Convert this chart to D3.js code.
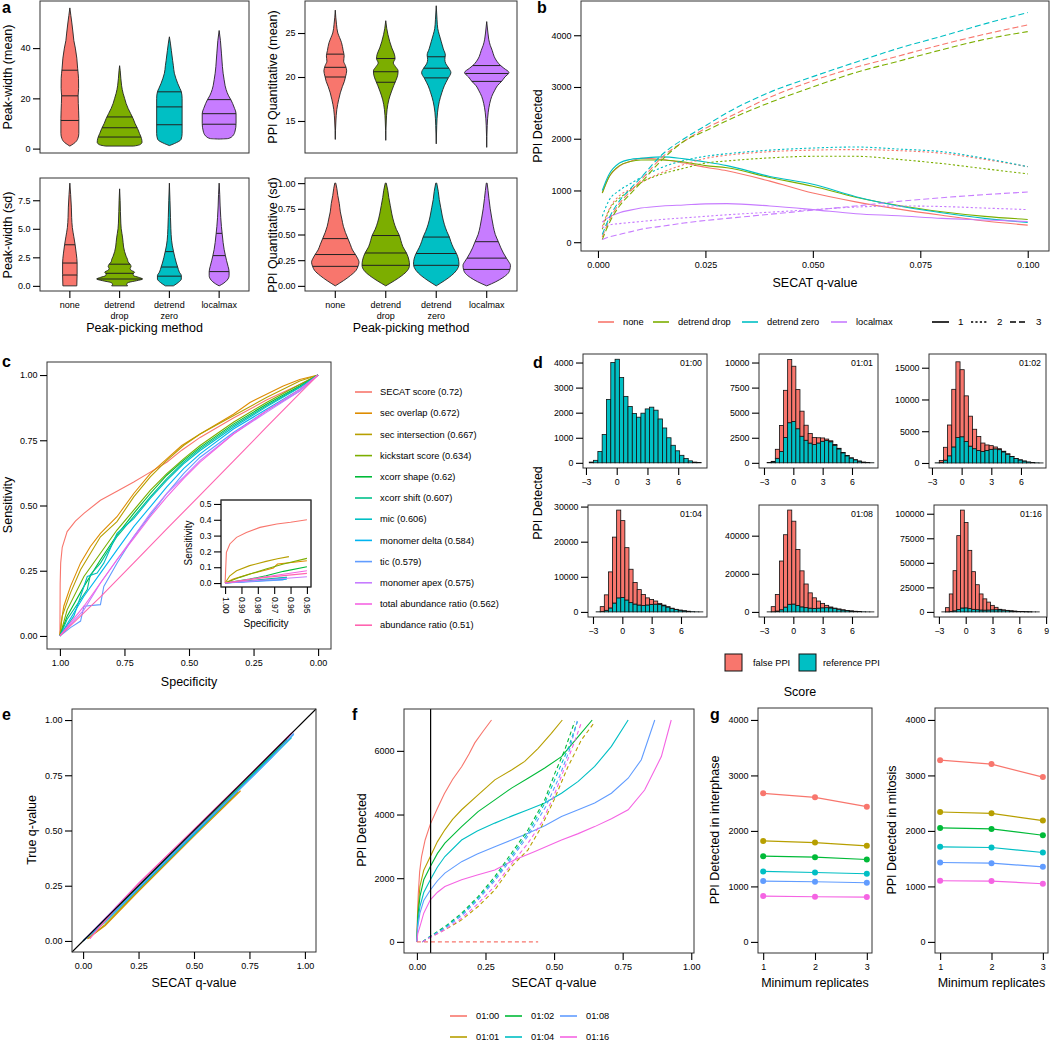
<!DOCTYPE html>
<html><head><meta charset="utf-8">
<script src="https://cdn.jsdelivr.net/npm/d3@7"></script>
<style>body{margin:0;background:#fff}</style>
</head><body>
<script>
// ================= DATA =================
// Panel a
const methods = ["none","detrend drop","detrend zero","localmax"];
const methodColors = ["#F8766D","#7CAE00","#00BFC4","#C77CFF"];
const methodTickLabels = [["none"],["detrend","drop"],["detrend","zero"],["localmax"]];
// violin profiles: [value, relative half-width]
const pwMeanProfiles = [
  [[1,0],[1.5,2],[2.5,5.5],[4,8],[6,9],[12,9],[18,8.5],[21,8.3],[24,8.8],[28,8.7],[32,7.8],[36,7],[40,5.5],[43,4],[46,3.2],[50,2],[53,1],[56,0]],
  [[1,14],[1.5,20],[2.5,22.5],[4,22],[6,20],[8,18],[10,15.5],[12,13.5],[14,11],[16,8.5],[18,6.5],[20,5],[22,3.5],[25,2],[28,1.2],[31,0.6],[33,0]],
  [[1.2,0],[2,5],[3.7,11.8],[6,12.8],[20,12.8],[22.6,12],[24,10.5],[26,8.3],[28,6.5],[30,5],[33,4],[35,3.3],[39,2],[42,1],[44.5,0]],
  [[3.8,0],[4,9],[5,13.5],[7,16],[10,17],[14,17],[16,15.5],[18,13.5],[19.5,11.7],[21,9.5],[23.5,7],[25,6],[27.4,5],[30,4],[32.6,3.3],[38,2.3],[43,1.3],[47,0]]
];
const pwMeanQuantiles = [[11.2,21,31.2],[4.6,8.3,12.6],[9.5,16.6,22.6],[9.7,13.9,19.5]];
const pqMeanProfiles = [
  [[12.9,0],[15,0.6],[16.3,1.5],[17.4,3.3],[18.2,5],[18.9,7],[19.5,9],[20.1,10.3],[20.7,11.3],[21.3,10],[21.8,8.3],[22.4,8.8],[23,7.8],[23.9,6.2],[24.5,4.2],[25,2.5],[26,1.2],[27.6,0]],
  [[12.8,0],[15,0.5],[16.3,1.3],[17.4,3],[18.3,5.5],[19,7.8],[19.6,10],[20.2,11.8],[20.7,12.2],[21.2,9.5],[21.6,7.5],[22.1,9.2],[22.6,8.5],[23.3,6],[24,4],[24.8,2.2],[25.5,1],[26.4,0]],
  [[12.4,0],[14.5,0.5],[16,1.3],[17.2,3],[18.2,5.5],[19,8],[19.8,11.5],[20.5,14.5],[21,12.5],[21.5,9.5],[22,8.5],[22.5,9],[23.2,7],[24,5],[24.8,3],[25.5,1.5],[26.5,0.8],[28.1,0]],
  [[12,0],[14.5,0.5],[16,1.5],[17,3],[17.8,5],[18.5,8],[19,10.5],[19.5,14.7],[20,18],[20.5,22],[21,17],[21.3,13.8],[21.8,10],[22.3,7.5],[23,5.5],[23.6,3.5],[24.3,2],[25,1.2],[26.3,0]]
];
const pqMeanQuantiles = [[20.0,21.1,22.6],[19.4,20.6,22.1],[19.9,21.0,22.3],[19.5,20.4,21.3]];
const pwSdProfiles = [
  [[0,7],[1,7.3],[2,7.3],[2.8,6.5],[3.6,5.3],[4.3,4],[5.1,2.5],[6,1.8],[6.9,1.5],[8,0.8],[9,0]],
  [[0,8],[0.15,7],[0.3,9],[0.45,17],[0.6,23],[0.75,19],[0.9,14],[1.05,13.5],[1.2,15],[1.35,12],[1.5,10.5],[1.7,11.5],[1.9,10.5],[2.1,8.5],[2.3,8],[2.6,6.5],[3,5],[3.4,4],[3.8,3.5],[4.2,3],[4.6,2.3],[5,1.6],[5.5,1.2],[6.5,0.8],[7.5,0.5],[8.5,0]],
  [[0,4],[0.3,9],[0.6,12],[0.9,12],[1.2,10],[1.65,8.3],[2.0,7],[2.5,5.5],[3.0,4.2],[3.5,3],[4,2.2],[5,1.5],[6,1.1],[7.5,0.6],[9,0]],
  [[0,0],[0.2,4],[0.5,8],[0.9,10],[1.25,10],[1.7,9],[2.2,7.5],[2.65,6.3],[3.2,5],[3.8,4],[4.6,3],[5.2,2.3],[6,1.6],[7,1],[8,0.6],[9,0]]
];
const pwSdQuantiles = [[0.95,2.0,3.6],[0.6,1.1,1.9],[0.85,1.65,3.0],[1.25,2.65,4.6]];
const pqSdProfiles = [
  [[0,0],[0.05,8],[0.1,15],[0.15,20.5],[0.19,22.5],[0.23,23.5],[0.27,22],[0.305,20],[0.35,17],[0.4,15],[0.46,12.5],[0.52,10],[0.58,8],[0.65,6.5],[0.72,5],[0.8,4],[0.88,2.5],[0.95,1.5],[1,0.5]],
  [[0,0],[0.05,8.5],[0.1,16],[0.15,21.5],[0.2,23.5],[0.25,23],[0.32,20.5],[0.38,17],[0.44,15],[0.49,13.5],[0.55,10.5],[0.62,8],[0.7,6],[0.78,4.5],[0.86,3],[0.93,2],[1,0.5]],
  [[0,0],[0.05,8],[0.1,15],[0.15,20],[0.21,22.5],[0.26,22],[0.315,20],[0.37,17],[0.43,14.5],[0.475,13],[0.53,10.5],[0.6,8],[0.68,6],[0.76,4.5],[0.84,3],[0.92,2],[1,0.5]],
  [[0,0],[0.04,9],[0.08,16],[0.12,21],[0.16,23],[0.2,23.5],[0.24,21.5],[0.27,19.5],[0.32,16.5],[0.37,14],[0.43,11.5],[0.5,8.5],[0.58,6.5],[0.66,5],[0.75,3.5],[0.85,2.2],[0.93,1.3],[1,0.4]]
];
const pqSdQuantiles = [[0.19,0.305,0.46],[0.2,0.32,0.49],[0.2,0.315,0.475],[0.16,0.27,0.43]];

// Panel b
const bQValues = [0.001,0.0025,0.005,0.0075,0.01,0.015,0.02,0.025,0.03,0.04,0.05,0.06,0.07,0.08,0.09,0.1];
const bReplicate1 = [
  [950,1250,1470,1560,1620,1600,1530,1450,1380,1180,950,780,640,520,410,330],
  [950,1250,1480,1560,1590,1590,1550,1480,1440,1250,1080,870,710,590,500,440],
  [1000,1300,1530,1600,1620,1650,1610,1550,1480,1270,1120,880,700,570,460,380],
  [390,480,570,620,660,700,720,740,745,700,630,550,510,460,430,400]
];
const bReplicate2 = [
  [300,620,900,1020,1150,1350,1500,1620,1680,1750,1780,1790,1770,1720,1600,1460],
  [250,600,850,1000,1150,1320,1430,1530,1570,1630,1660,1660,1600,1520,1420,1320],
  [500,800,1000,1130,1250,1450,1580,1660,1710,1780,1820,1840,1800,1750,1620,1460],
  [280,330,360,380,400,440,470,500,530,580,630,680,700,690,660,630]
];
const bReplicate3 = [
  [100,400,750,980,1200,1650,1950,2200,2400,2800,3120,3380,3600,3820,4020,4200],
  [50,350,700,930,1150,1600,1950,2150,2350,2700,3000,3280,3500,3720,3920,4070],
  [150,450,800,1030,1250,1700,2000,2250,2500,2900,3200,3480,3750,3980,4220,4440],
  [50,100,150,200,250,310,370,420,460,540,620,700,790,860,920,970]
];
const replicateLabels = ["1","2","3"];

// Panel c
const rocNames = ["SECAT score (0.72)","sec overlap (0.672)","sec intersection (0.667)","kickstart score (0.634)","xcorr shape (0.62)","xcorr shift (0.607)","mic (0.606)","monomer delta (0.584)","tic (0.579)","monomer apex (0.575)","total abundance ratio (0.562)","abundance ratio (0.51)"];
const rocColors = ["#F8766D","#DE8C00","#B79F00","#7CAE00","#00BA38","#00C08B","#00BFC4","#00B4F0","#619CFF","#C77CFF","#F564E3","#FF64B0"];
const rocCurves = [
  [[1,0],[0.999,0.2],[0.997,0.28],[0.991,0.34],[0.972,0.4],[0.94,0.44],[0.907,0.47],[0.843,0.52],[0.779,0.555],[0.714,0.59],[0.65,0.628],[0.586,0.666],[0.528,0.712],[0.457,0.761],[0.328,0.835],[0.2,0.904],[0.071,0.964],[0,1]],
  [[1,0],[0.995,0.05],[0.985,0.114],[0.959,0.19],[0.92,0.28],[0.882,0.343],[0.843,0.393],[0.779,0.457],[0.714,0.546],[0.65,0.622],[0.586,0.679],[0.528,0.73],[0.457,0.774],[0.328,0.85],[0.264,0.895],[0.2,0.926],[0.135,0.958],[0.071,0.983],[0,1]],
  [[1,0],[0.991,0.076],[0.959,0.165],[0.92,0.254],[0.843,0.38],[0.779,0.438],[0.714,0.533],[0.65,0.61],[0.586,0.673],[0.521,0.73],[0.457,0.774],[0.328,0.844],[0.2,0.914],[0.071,0.977],[0,1]],
  [[1,0],[0.972,0.1],[0.907,0.228],[0.843,0.317],[0.779,0.406],[0.714,0.482],[0.65,0.558],[0.586,0.622],[0.521,0.679],[0.457,0.73],[0.328,0.819],[0.2,0.895],[0.071,0.964],[0,1]],
  [[1,0],[0.972,0.076],[0.907,0.19],[0.843,0.292],[0.779,0.387],[0.714,0.47],[0.65,0.546],[0.586,0.616],[0.521,0.673],[0.457,0.723],[0.328,0.812],[0.2,0.888],[0.071,0.958],[0,1]],
  [[1,0],[0.972,0.064],[0.894,0.178],[0.882,0.235],[0.843,0.279],[0.779,0.381],[0.714,0.457],[0.65,0.533],[0.586,0.603],[0.521,0.666],[0.457,0.717],[0.328,0.806],[0.2,0.882],[0.071,0.954],[0,1]],
  [[1,0],[0.946,0.076],[0.894,0.228],[0.856,0.241],[0.83,0.279],[0.779,0.393],[0.714,0.45],[0.65,0.527],[0.586,0.596],[0.521,0.66],[0.457,0.711],[0.328,0.8],[0.2,0.878],[0.071,0.952],[0,1]],
  [[1,0],[0.907,0.152],[0.843,0.241],[0.779,0.33],[0.714,0.419],[0.65,0.495],[0.586,0.571],[0.521,0.641],[0.457,0.698],[0.328,0.793],[0.2,0.869],[0.071,0.945],[0,1]],
  [[1,0],[0.959,0.032],[0.92,0.057],[0.907,0.114],[0.843,0.12],[0.83,0.19],[0.779,0.279],[0.714,0.381],[0.65,0.463],[0.586,0.546],[0.521,0.622],[0.457,0.685],[0.328,0.78],[0.2,0.863],[0.071,0.939],[0,1]],
  [[1,0],[0.907,0.1],[0.843,0.203],[0.779,0.292],[0.714,0.381],[0.65,0.47],[0.586,0.546],[0.521,0.609],[0.457,0.673],[0.328,0.774],[0.2,0.857],[0.071,0.939],[0,1]],
  [[1,0],[0.907,0.114],[0.843,0.203],[0.779,0.292],[0.714,0.374],[0.65,0.457],[0.586,0.533],[0.521,0.603],[0.457,0.666],[0.328,0.774],[0.2,0.863],[0.071,0.945],[0,1]],
  [[1,0],[0.843,0.15],[0.714,0.28],[0.586,0.41],[0.457,0.54],[0.328,0.67],[0.2,0.8],[0.071,0.93],[0,1]]
];
const rocInsetCurves = [
  [[1,0],[0.9992,0.194],[0.9971,0.247],[0.993,0.289],[0.987,0.32],[0.9787,0.352],[0.9684,0.373],[0.96,0.384],[0.95,0.4]],
  [[1,0],[0.995,0.025],[0.985,0.057],[0.975,0.082],[0.9705,0.095],[0.968,0.12],[0.958,0.131],[0.95,0.141]],
  [[1,0],[0.9971,0.046],[0.993,0.078],[0.985,0.11],[0.975,0.137],[0.968,0.154],[0.961,0.167]],
  [[1,0],[0.991,0.036],[0.9828,0.063],[0.975,0.089],[0.9643,0.12],[0.95,0.156]],
  [[1,0],[0.985,0.025],[0.975,0.046],[0.9643,0.074],[0.95,0.103]],
  [[1,0],[0.975,0.025],[0.9623,0.036]],
  [[1,0],[0.975,0.019],[0.9623,0.036]],
  [[1,0],[0.9623,0.025]],
  [[1,0],[0.9643,0.019]],
  [[1,0],[0.95,0.04]],
  [[1,0],[0.975,0.04],[0.95,0.078]],
  [[1,0],[0.975,0.036],[0.95,0.061]]
];

// Panel d
const dLabels = ["01:00","01:01","01:02","01:04","01:08","01:16"];
const dBinStart = -2.68, dBinWidth = 0.42;
const dReferenceCounts = [30,100,450,1130,2530,4000,4130,3400,2650,2250,1970,1820,1980,2150,2220,2100,1750,1390,1000,700,480,300,170,80,30,10];
const dFalse0100 = [0,0,0,0,0,0,0,0,0,0,0,0,0,0,0,0,0,0,0,0,0,0,0,0,0,0];
const dFalse0101 = [0,50,900,2600,4700,6300,5500,3900,2500,1500,960,700,520,330,150,100,80,60,40,30,20,10,5,0,0,0];
const dFalse0102 = [0,310,2020,4850,9070,11930,10560,7170,4720,3060,2210,1320,860,580,300,150,100,60,40,20,10,5,0,0,0,0];
const dFalse0104 = [0,1400,4410,10270,18770,25000,21870,14900,9500,6150,4380,3130,2020,1400,880,330,200,100,60,40,20,10,5,0,0,0];
const dFalse0108 = [0,2660,8690,25570,37970,49450,43470,29360,18900,12400,8030,5580,3720,2330,1230,490,250,150,100,50,30,20,10,0,0,0];
const dFalse0116 = [0,4230,17850,40870,75170,99700,86870,59300,38350,25450,16330,11480,8020,4520,2450,570,300,200,100,50,30,20,10,5,0,0];
const dFalseCounts = [dFalse0100,dFalse0101,dFalse0102,dFalse0104,dFalse0108,dFalse0116];
const dLegend = ["false PPI","reference PPI"];

// Panel e: SECAT q-value vs true q-value, per score (same order as rocNames)
const eCurves = [
  [[0,0],[0.1,0.09],[0.25,0.245],[0.5,0.49],[0.75,0.745],[0.93,0.925]],
  [[0.02,0.01],[0.1,0.07],[0.25,0.225],[0.5,0.475],[0.71,0.68]],
  [[0.02,0.01],[0.1,0.075],[0.25,0.23],[0.5,0.48],[0.7,0.675]],
  [[0,0],[0.1,0.09],[0.25,0.24],[0.5,0.49],[0.75,0.74],[0.9,0.89]],
  [[0,0],[0.1,0.095],[0.25,0.245],[0.5,0.5],[0.75,0.745],[0.92,0.915]],
  [[0,0],[0.1,0.09],[0.25,0.24],[0.5,0.49],[0.75,0.74],[0.92,0.91]],
  [[0,0],[0.1,0.085],[0.25,0.235],[0.5,0.48],[0.75,0.73],[0.94,0.92]],
  [[0,0],[0.1,0.09],[0.25,0.24],[0.5,0.485],[0.75,0.735],[0.95,0.935]],
  [[0,0],[0.1,0.09],[0.25,0.24],[0.5,0.49],[0.75,0.73],[0.85,0.83],[0.95,0.94]],
  [[0,0],[0.15,0.155],[0.25,0.255],[0.5,0.5],[0.75,0.75],[0.94,0.94]],
  [[0.03,0.01],[0.15,0.155],[0.25,0.262],[0.5,0.505],[0.75,0.75],[0.95,0.95]],
  [[0.03,0.01],[0.15,0.15],[0.25,0.26],[0.5,0.505],[0.75,0.752],[0.94,0.942]]
];

// Panel f
const times = ["01:00","01:01","01:02","01:04","01:08","01:16"];
const timeColors = ["#F8766D","#B79F00","#00BA38","#00BFC4","#619CFF","#F564E3"];
const fSolid = [
  [[0,0],[0.002,800],[0.005,1500],[0.01,2200],[0.017,2680],[0.03,3200],[0.049,3700],[0.075,4200],[0.1,4650],[0.13,5100],[0.163,5500],[0.19,5900],[0.211,6250],[0.24,6600],[0.272,6970]],
  [[0,0],[0.003,900],[0.011,1740],[0.025,2250],[0.049,2680],[0.075,3150],[0.102,3520],[0.13,3850],[0.163,4150],[0.223,4620],[0.284,5090],[0.345,5400],[0.393,5670],[0.442,6080],[0.49,6550],[0.53,6970]],
  [[0,0],[0.003,750],[0.011,1420],[0.025,1950],[0.049,2370],[0.075,2780],[0.102,3100],[0.163,3620],[0.223,4090],[0.284,4460],[0.345,4830],[0.405,5140],[0.466,5460],[0.527,5820],[0.588,6450],[0.639,6970]],
  [[0,0],[0.003,600],[0.011,1110],[0.025,1550],[0.049,1950],[0.075,2350],[0.102,2680],[0.163,3200],[0.22,3480],[0.284,3730],[0.345,3950],[0.405,4150],[0.466,4360],[0.527,4670],[0.588,5040],[0.648,5510],[0.709,6140],[0.77,6970]],
  [[0,0],[0.003,450],[0.011,900],[0.025,1300],[0.049,1630],[0.075,1920],[0.102,2160],[0.163,2520],[0.22,2760],[0.284,2990],[0.345,3200],[0.405,3410],[0.466,3650],[0.527,3940],[0.588,4150],[0.648,4360],[0.709,4670],[0.77,5140],[0.818,5720],[0.867,6970]],
  [[0,0],[0.003,250],[0.011,480],[0.025,900],[0.049,1320],[0.075,1560],[0.102,1740],[0.163,1950],[0.22,2100],[0.284,2260],[0.357,2580],[0.43,2840],[0.527,3200],[0.588,3400],[0.648,3620],[0.709,3870],[0.77,4150],[0.83,4770],[0.891,5820],[0.927,6970]]
];
const fDashed = [
  [[0,0],[0.442,0]],
  [[0.02,0],[0.041,115],[0.102,380],[0.163,690],[0.223,1110],[0.284,1630],[0.345,2370],[0.405,2890],[0.454,3620],[0.5,4460],[0.551,5510],[0.6,6350],[0.645,6870]],
  [[0.02,0],[0.041,130],[0.102,480],[0.163,900],[0.223,1420],[0.284,2050],[0.345,2790],[0.405,3520],[0.466,4460],[0.503,5300],[0.539,6030],[0.575,6920]],
  [[0.02,0],[0.041,125],[0.102,450],[0.163,860],[0.223,1370],[0.284,1980],[0.345,2700],[0.405,3420],[0.466,4350],[0.51,5250],[0.55,6050],[0.585,6920]],
  [[0.02,0],[0.041,120],[0.102,420],[0.163,820],[0.223,1320],[0.284,1920],[0.345,2620],[0.405,3330],[0.47,4250],[0.52,5200],[0.555,6000],[0.585,6950]],
  [[0.02,0],[0.041,100],[0.102,380],[0.163,740],[0.223,1200],[0.284,1750],[0.345,2450],[0.405,3100],[0.455,3750],[0.5,4600],[0.54,5500],[0.575,6300],[0.6,6900]]
];
const fCutoff = 0.05;

// Panel g
const minReplicates = [1,2,3];
const gInterphase = [[2677,2605,2437],[1820,1790,1731],[1545,1527,1485],[1270,1251,1228],[1096,1084,1066],[826,814,808]];
const gMitosis = [[3275,3204,2970],[2341,2317,2186],[2054,2036,1922],[1713,1701,1611],[1431,1419,1353],[1102,1096,1048]];

// ================= DRAWING =================
const FONT = "'Liberation Sans', Arial, Helvetica, sans-serif";
const TICK_FS = 9, TITLE_FS = 12.5, LEG_FS = 9.3;
const svg = d3.select("body").append("svg").attr("width",1050).attr("height",1041).attr("font-family",FONT);
svg.append("rect").attr("width",1050).attr("height",1041).attr("fill","#fff");

function frame(x0,y0,x1,y1,fill){
  return svg.append("rect").attr("x",x0).attr("y",y0).attr("width",x1-x0).attr("height",y1-y0)
    .attr("fill",fill||"none").attr("stroke","#333").attr("stroke-width",1);
}
function styleAxis(g, fs){
  g.attr("font-family",FONT).attr("font-size",fs);
  g.select(".domain").remove();
  g.selectAll(".tick line").attr("stroke","#000").attr("stroke-width",1.1);
  g.selectAll(".tick text").attr("fill","#000");
  return g;
}
function yAxis(scale,x,ticks,fmt,fs){
  const g = svg.append("g").attr("transform",`translate(${x},0)`)
    .call(d3.axisLeft(scale).tickValues(ticks).tickFormat(fmt).tickSize(7).tickPadding(2.5));
  return styleAxis(g, fs||TICK_FS);
}
function xAxis(scale,y,ticks,fmt,fs){
  const g = svg.append("g").attr("transform",`translate(0,${y})`)
    .call(d3.axisBottom(scale).tickValues(ticks).tickFormat(fmt).tickSize(7).tickPadding(4));
  return styleAxis(g, fs||TICK_FS);
}
function label(x,y,str,opts){
  opts = opts||{};
  const t = svg.append("text").attr("x",x).attr("y",y).text(str)
    .attr("font-size",opts.fs||TITLE_FS).attr("text-anchor",opts.anchor||"middle").attr("fill","#000");
  if(opts.bold) t.attr("font-weight","bold");
  if(opts.dy) t.attr("dy",opts.dy);
  return t;
}
function yTitle(x,y,str,fs){
  svg.append("text").attr("transform",`translate(${x},${y}) rotate(-90)`).attr("dy","0.35em")
    .attr("text-anchor","middle").attr("font-size",fs||TITLE_FS).attr("fill","#000").text(str);
}
const fmtInt = d3.format("d");

// ---------- Panel a ----------
function interpProfile(prof,v){
  for(let i=0;i<prof.length-1;i++){
    const a=prof[i], b=prof[i+1];
    if(v>=a[0] && v<=b[0]) return a[1]+(b[1]-a[1])*(v-a[0])/(b[0]-a[0]);
  }
  return 0;
}
function violinPanel(bx,profiles,quants,ydom,yticks,yfmt,showX){
  const [x0,y0,x1,y1]=bx;
  const x = d3.scalePoint().domain(methods).range([x0,x1]).padding(0.6);
  const y = d3.scaleLinear().domain(ydom).range([y1,y0]);
  const w = d3.scaleLinear().domain([0,25]).range([0,x.step()*0.5]);
  frame(x0,y0,x1,y1);
  profiles.forEach((prof,i)=>{
    const cx = x(methods[i]);
    const area = d3.area().y(d=>y(d[0])).x0(d=>cx-w(d[1])).x1(d=>cx+w(d[1])).curve(d3.curveMonotoneY);
    svg.append("path").attr("d",area(prof)).attr("fill",methodColors[i]).attr("stroke","#222").attr("stroke-width",0.9);
    quants[i].forEach(q=>{
      const hw = w(interpProfile(prof,q));
      svg.append("line").attr("x1",cx-hw).attr("x2",cx+hw).attr("y1",y(q)).attr("y2",y(q))
        .attr("stroke","#222").attr("stroke-width",1);
    });
  });
  yAxis(y,x0,yticks,yfmt);
  if(showX){
    methods.forEach((m,i)=>{
      const cx=x(m);
      svg.append("line").attr("x1",cx).attr("x2",cx).attr("y1",y1).attr("y2",y1+7).attr("stroke","#000").attr("stroke-width",1.1);
      methodTickLabels[i].forEach((s,j)=>{
        label(cx,y1+17+j*11,s,{fs:TICK_FS});
      });
    });
    label((x0+x1)/2,332,"Peak-picking method");
  }
}
violinPanel([40,1,249,153],pwMeanProfiles,pwMeanQuantiles,[-1.75,58.75],[0,20,40],fmtInt,false);
violinPanel([305,1,517,153],pqMeanProfiles,pqMeanQuantiles,[11.36,28.64],[15,20,25],fmtInt,false);
violinPanel([40,178,249,291],pwSdProfiles,pwSdQuantiles,[-0.45,9.45],[0,2.5,5,7.5],d3.format(".1f"),true);
violinPanel([305,178,517,291],pqSdProfiles,pqSdQuantiles,[-0.05,1.05],[0,0.25,0.5,0.75,1],d3.format(".2f"),true);
yTitle(8,77,"Peak-width (mean)");
yTitle(8,235,"Peak-width (sd)");
yTitle(273,77,"PPI Quantitative (mean)");
yTitle(273,235,"PPI Quantitative (sd)");
label(2,13,"a",{fs:16,bold:true,anchor:"start"});

// ---------- Panel b ----------
{
  const x = d3.scaleLinear().domain([-0.00395,0.10495]).range([581,1049]);
  const y = d3.scaleLinear().domain([-170,4662]).range([251,1]);
  const dashes = [null,"2.2,2.2","6,3"];
  const reps = [bReplicate1,bReplicate2,bReplicate3];
  const line = d3.line().x(d=>x(d[0])).y(d=>y(d[1])).curve(d3.curveMonotoneX);
  reps.forEach((rep,r)=>{
    rep.forEach((vals,m)=>{
      const pts = bQValues.map((q,k)=>[q,vals[k]]);
      const p = svg.append("path").attr("d",line(pts)).attr("fill","none")
        .attr("stroke",methodColors[m]).attr("stroke-width",1.1);
      if(dashes[r]) p.attr("stroke-dasharray",dashes[r]);
    });
  });
  frame(581,1,1049,251);
  yAxis(y,581,[0,1000,2000,3000,4000],fmtInt);
  xAxis(x,251,[0,0.025,0.05,0.075,0.1],d3.format(".3f"));
  label(815,287,"SECAT q-value");
  yTitle(538,126,"PPI Detected");
  label(537,13,"b",{fs:16,bold:true,anchor:"start"});
  // legend
  const lx = [598,653,742,831];
  methods.forEach((m,i)=>{
    svg.append("line").attr("x1",lx[i]).attr("x2",lx[i]+16).attr("y1",322).attr("y2",322)
      .attr("stroke",methodColors[i]).attr("stroke-width",1.6);
    label(lx[i]+25,322,m,{fs:LEG_FS,anchor:"start",dy:"0.35em"});
  });
  const rx=[932,971,1010];
  replicateLabels.forEach((s,i)=>{
    const l = svg.append("line").attr("x1",rx[i]).attr("x2",rx[i]+17).attr("y1",322).attr("y2",322)
      .attr("stroke","#000").attr("stroke-width",1.6);
    if(dashes[i]) l.attr("stroke-dasharray",dashes[i]);
    label(rx[i]+26,322,s,{fs:LEG_FS+0.5,anchor:"start",dy:"0.35em"});
  });
}

// ---------- Panel c ----------
{
  const x = d3.scaleLinear().domain([1.05,-0.05]).range([47,331]);
  const y = d3.scaleLinear().domain([-0.05,1.05]).range([649,362]);
  const line = d3.line().x(d=>x(d[0])).y(d=>y(d[1]));
  rocCurves.forEach((c,i)=>{
    svg.append("path").attr("d",line(c)).attr("fill","none").attr("stroke",rocColors[i]).attr("stroke-width",1.1);
  });
  frame(47,362,331,649);
  yAxis(y,47,[0,0.25,0.5,0.75,1],d3.format(".2f"));
  xAxis(x,649,[1,0.75,0.5,0.25,0],d3.format(".2f"));
  label(189,686,"Specificity");
  yTitle(8,505,"Sensitivity");
  label(2,367,"c",{fs:16,bold:true,anchor:"start"});
  // inset
  const ix = d3.scaleLinear().domain([1.0025,0.9475]).range([221,311]);
  const iy = d3.scaleLinear().domain([-0.025,0.525]).range([587,500]);
  frame(221,500,311,587,"#fff");
  const iline = d3.line().x(d=>ix(d[0])).y(d=>iy(d[1]));
  rocInsetCurves.forEach((c,i)=>{
    svg.append("path").attr("d",iline(c)).attr("fill","none").attr("stroke",rocColors[i]).attr("stroke-width",1.1);
  });
  frame(221,500,311,587);
  yAxis(iy,221,[0,0.1,0.2,0.3,0.4,0.5],d3.format(".1f"),8.5);
  const gx = svg.append("g").attr("transform","translate(0,587)")
    .call(d3.axisBottom(ix).tickValues([1,0.99,0.98,0.97,0.96,0.95]).tickFormat(d3.format(".2f")).tickSize(7).tickPadding(3));
  styleAxis(gx,8.5);
  gx.selectAll(".tick text").attr("transform","rotate(90)").attr("text-anchor","start")
    .attr("x",10).attr("y",0).attr("dy","0.35em");
  label(266,627,"Specificity",{fs:10});
  yTitle(188,543,"Sensitivity",10);
  // legend
  rocNames.forEach((n,i)=>{
    const yy = 392+21.2*i;
    svg.append("line").attr("x1",355).attr("x2",372).attr("y1",yy).attr("y2",yy).attr("stroke",rocColors[i]).attr("stroke-width",1.6);
    label(380,yy,n,{fs:LEG_FS,anchor:"start",dy:"0.35em"});
  });
}

// ---------- Panel d ----------
{
  const boxes = [[583,354,707,468],[759,354,878,468],[929,354,1046,468],[588,505,707,617],[759,505,878,617],[934,505,1047,617]];
  const xdoms = [[-3.29,8.81],[-3.51,8.66],[-3.3,8.53],[-3.51,8.66],[-3.51,8.66],[-3.55,9.1]];
  const ydoms = [[-206,4340],[-515,10850],[-790,17160],[-1450,30450],[-2670,56100],[-5185,108900]];
  const yticks = [[0,1000,2000,3000,4000],[0,2500,5000,7500,10000],[0,5000,10000,15000],[0,10000,20000,30000],[0,20000,40000],[0,25000,50000,75000,100000]];
  const xticks = [[-3,0,3,6],[-3,0,3,6],[-3,0,3,6],[-3,0,3,6],[-3,0,3,6],[-3,0,3,6,9]];
  dLabels.forEach((lab,f)=>{
    const [x0,y0,x1,y1]=boxes[f];
    const x = d3.scaleLinear().domain(xdoms[f]).range([x0,x1]);
    const y = d3.scaleLinear().domain(ydoms[f]).range([y1,y0]);
    const fc = dFalseCounts[f];
    dReferenceCounts.forEach((rc,i)=>{
      const e0 = dBinStart+i*dBinWidth, e1 = e0+dBinWidth;
      svg.append("rect").attr("x",x(e0)).attr("width",x(e1)-x(e0)).attr("y",y(rc)).attr("height",y(0)-y(rc))
        .attr("fill","#00BFC4").attr("stroke","#111").attr("stroke-width",0.8);
      if(fc[i]>0){
        svg.append("rect").attr("x",x(e0)).attr("width",x(e1)-x(e0)).attr("y",y(rc+fc[i])).attr("height",y(rc)-y(rc+fc[i]))
          .attr("fill","#F8766D").attr("stroke","#111").attr("stroke-width",0.8);
      }
    });
    frame(x0,y0,x1,y1);
    yAxis(y,x0,yticks[f],fmtInt,8.8);
    xAxis(x,y1,xticks[f],fmtInt,8.8);
    label(x1-5,y0+12,lab,{fs:8.8,anchor:"end"});
  });
  yTitle(538,503,"PPI Detected");
  label(533,368,"d",{fs:16,bold:true,anchor:"start"});
  // legend
  const lcol = ["#F8766D","#00BFC4"], lx=[725,799], tx=[753,823];
  dLegend.forEach((s,i)=>{
    svg.append("rect").attr("x",lx[i]).attr("y",654).attr("width",17).attr("height",17).attr("fill",lcol[i]).attr("stroke","#111").attr("stroke-width",1);
    label(tx[i],662.5,s,{fs:LEG_FS,anchor:"start",dy:"0.35em"});
  });
  label(800,696,"Score");
}

// ---------- Panel e ----------
{
  const x = d3.scaleLinear().domain([-0.05,1.05]).range([72,316]);
  const y = d3.scaleLinear().domain([-0.05,1.05]).range([952,709]);
  const line = d3.line().x(d=>x(d[0])).y(d=>y(d[1]));
  eCurves.forEach((c,i)=>{
    svg.append("path").attr("d",line(c)).attr("fill","none").attr("stroke",rocColors[i]).attr("stroke-width",1.1);
  });
  svg.append("path").attr("d",line([[-0.05,-0.05],[1.05,1.05]])).attr("stroke","#000").attr("stroke-width",1.1);
  frame(72,709,316,952);
  yAxis(y,72,[0,0.25,0.5,0.75,1],d3.format(".2f"));
  xAxis(x,952,[0,0.25,0.5,0.75,1],d3.format(".2f"));
  label(194,987,"SECAT q-value");
  yTitle(32,830,"True q-value");
  label(2,720,"e",{fs:16,bold:true,anchor:"start"});
}

// ---------- Panel f ----------
{
  const x = d3.scaleLinear().domain([-0.047,1.01]).range([404,694]);
  const y = d3.scaleLinear().domain([-350,7315]).range([953,709]);
  const line = d3.line().x(d=>x(d[0])).y(d=>y(d[1]));
  fSolid.forEach((c,i)=>{
    svg.append("path").attr("d",line(c)).attr("fill","none").attr("stroke",timeColors[i]).attr("stroke-width",1.1);
  });
  fDashed.forEach((c,i)=>{
    svg.append("path").attr("d",line(c)).attr("fill","none").attr("stroke",timeColors[i]).attr("stroke-width",1.1).attr("stroke-dasharray","4,3");
  });
  svg.append("line").attr("x1",x(fCutoff)).attr("x2",x(fCutoff)).attr("y1",709).attr("y2",953).attr("stroke","#000").attr("stroke-width",1.2);
  frame(404,709,694,953);
  yAxis(y,404,[0,2000,4000,6000],fmtInt);
  xAxis(x,953,[0,0.25,0.5,0.75,1],d3.format(".2f"));
  label(554,987,"SECAT q-value");
  yTitle(362,830,"PPI Detected");
  label(352,720,"f",{fs:16,bold:true,anchor:"start"});
  const cx=[450,505,560], ry=[1016,1037];
  times.forEach((t,i)=>{
    const c = Math.floor(i/2), r = i%2;
    svg.append("line").attr("x1",cx[c]).attr("x2",cx[c]+17).attr("y1",ry[r]).attr("y2",ry[r]).attr("stroke",timeColors[i]).attr("stroke-width",1.6);
    label(cx[c]+26,ry[r],t,{fs:LEG_FS,anchor:"start",dy:"0.35em"});
  });
}

// ---------- Panel g ----------
function gPanel(bx,data,title,tx){
  const [x0,y0,x1,y1]=bx;
  const x = d3.scaleLinear().domain([0.9,3.1]).range([x0,x1]);
  const y = d3.scaleLinear().domain([-200,4215]).range([y1,y0]);
  const line = d3.line().x((d,k)=>x(minReplicates[k])).y(d=>y(d));
  data.forEach((vals,i)=>{
    svg.append("path").attr("d",line(vals)).attr("fill","none").attr("stroke",timeColors[i]).attr("stroke-width",1.2);
    vals.forEach((v,k)=>{
      svg.append("circle").attr("cx",x(minReplicates[k])).attr("cy",y(v)).attr("r",3).attr("fill",timeColors[i]);
    });
  });
  frame(x0,y0,x1,y1);
  yAxis(y,x0,[0,1000,2000,3000,4000],fmtInt);
  xAxis(x,y1,minReplicates,fmtInt);
  label((x0+x1)/2,987,"Minimum replicates");
  yTitle(tx,830,title);
}
gPanel([758,708,872,953],gInterphase,"PPI Detected in interphase",715);
gPanel([935,708,1048,953],gMitosis,"PPI Detected in mitosis",892);
label(710,720,"g",{fs:16,bold:true,anchor:"start"});
</script>
</body></html>
